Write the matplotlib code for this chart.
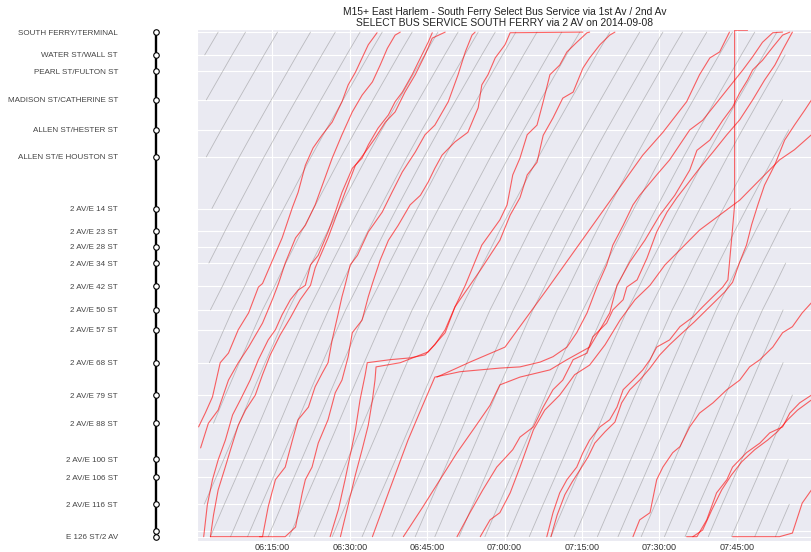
import numpy as np
import matplotlib
matplotlib.use("Agg")
import matplotlib.pyplot as plt
import matplotlib.dates as mdates
import seaborn as sns

sns.set_style("darkgrid")
plt.rcParams["font.family"] = ["Liberation Sans", "DejaVu Sans"]

# stops, bottom (E 126 St) to top (South Ferry), miles along the route
stop_names = ["E 126 ST/2 AV", "", "2 AV/E 116 ST", "2 AV/E 106 ST", "2 AV/E 100 ST",
              "2 AV/E 88 ST", "2 AV/E 79 ST", "2 AV/E 68 ST", "2 AV/E 57 ST",
              "2 AV/E 50 ST", "2 AV/E 42 ST", "2 AV/E 34 ST", "2 AV/E 28 ST",
              "2 AV/E 23 ST", "2 AV/E 14 ST", "ALLEN ST/E HOUSTON ST",
              "ALLEN ST/HESTER ST", "MADISON ST/CATHERINE ST", "PEARL ST/FULTON ST",
              "WATER ST/WALL ST", "SOUTH FERRY/TERMINAL"]
stop_miles = [0.00, 0.10, 0.54, 0.99, 1.29, 1.89, 2.36, 2.90, 3.45, 3.78, 4.17,
              4.56, 4.83, 5.09, 5.47, 6.33, 6.78, 7.28, 7.76, 8.03, 8.41]

# scheduled run time (min from E 126 St) at each stop, and scheduled departures
sched_runtime = [0.0, 0.5, 2.7, 5.0, 6.5, 9.5, 11.8, 14.5, 17.3, 19.0, 21.3, 23.5,
                 25.1, 26.6, 28.9, 34.2, 37.1, 40.4, 43.6, 45.4, 48.0]
sched_departs = [-48.0, -43.5, -38.2, -32.0, -25.6, -20.8, -16.0, -11.7, -5.9, -0.9,
                 3.0, 6.9, 10.2, 14.2, 18.3, 23.1, 26.6, 32.4, 38.2, 42.7, 46.5,
                 51.2, 56.2, 60.5, 64.8, 69.0, 73.5, 78.0, 82.0, 86.5, 91.0, 95.0,
                 99.5, 104.0, 108.5, 112.5]
window = (1.8, 116.0)

# observed buses: minutes after 06:00 and miles from E 126 St
bus_01_min = [0.7, 2.0, 3.4, 4.9, 6.5, 8.4, 10.4, 12.3, 13.1, 15.2, 16.9, 18.9, 20.0, 21.4,
              22.9, 24.7, 26.6, 28.5, 29.7, 31.1, 32.4, 33.6, 35.3]
bus_01_mi = [1.83, 2.06, 2.33, 2.90, 3.06, 3.45, 3.73, 4.16, 4.22, 4.64, 4.98, 5.49, 5.74,
             6.19, 6.48, 6.70, 6.91, 7.25, 7.53, 7.74, 7.98, 8.20, 8.40]
bus_02_min = [1.1, 2.6, 4.5, 6.5, 8.4, 10.4, 13.1, 15.0, 16.2, 17.5, 19.5, 21.4, 23.3, 24.7,
              26.6, 28.5, 30.5, 32.4, 34.4, 35.9, 37.3, 38.8, 39.8]
bus_02_mi = [1.48, 1.89, 2.11, 2.61, 2.90, 3.16, 3.56, 3.95, 4.22, 4.56, 4.98, 5.19, 5.53,
             5.86, 6.31, 6.70, 7.08, 7.36, 7.58, 7.86, 8.14, 8.36, 8.41]
bus_03_min = [1.7, 2.4, 3.4, 4.5, 5.9, 7.3, 8.8, 10.7, 12.3, 14.2, 15.6, 16.9, 18.5, 20.0,
              21.4, 22.4, 23.9, 25.8, 27.2, 28.5, 30.5, 32.4, 33.6, 35.5, 37.5, 38.8, 40.2,
              42.1, 43.3, 45.2, 46.0]
bus_03_mi = [0.0, 0.53, 0.95, 1.28, 1.61, 2.03, 2.28, 2.61, 2.95, 3.28, 3.45, 3.70, 3.95,
             4.11, 4.19, 4.53, 4.69, 5.08, 5.41, 5.74, 6.14, 6.31, 6.53, 6.81, 7.03, 7.25,
             7.41, 7.70, 7.91, 8.24, 8.40]
bus_04_min = [3.0, 3.6, 4.5, 5.7, 6.9, 8.4, 9.8, 11.7, 13.1, 14.6, 16.5, 18.5, 20.4, 22.4,
              23.3, 25.8, 29.1, 31.1, 33.0, 34.9, 36.9, 38.8, 40.7, 42.7, 44.6, 46.0, 48.5]
bus_04_mi = [0.0, 0.36, 0.78, 1.11, 1.45, 1.86, 2.11, 2.36, 2.70, 3.03, 3.36, 3.65, 3.95,
             4.19, 4.48, 4.98, 5.74, 6.19, 6.41, 6.64, 6.91, 7.08, 7.41, 7.70, 8.03, 8.31, 8.41]
bus_05_min = [12.5, 13.1, 14.2, 15.6, 17.5, 18.9, 20.0, 22.0, 23.3, 24.7, 25.8, 26.6, 27.8,
              28.5, 29.1, 30.1, 31.5, 33.6, 36.3, 38.2, 40.2, 42.7, 44.6, 46.5, 49.1, 51.0,
              52.4, 53.7, 54.3]
bus_05_mi = [0.0, 0.0, 0.50, 0.95, 1.16, 1.61, 1.95, 2.16, 2.50, 2.73, 2.90, 3.28, 3.73,
             4.00, 4.19, 4.53, 4.69, 5.08, 5.41, 5.74, 6.08, 6.41, 6.70, 6.86, 7.25, 7.70,
             8.08, 8.36, 8.41]
bus_06_min = [3.0, 17.5, 19.5, 20.8, 21.4, 22.7, 23.9, 25.8, 27.2, 28.5, 29.7, 30.5, 32.4,
              33.6, 34.4, 35.9, 37.5, 39.4, 41.7, 43.7, 45.2, 46.5, 47.9, 50.4, 52.9, 54.9,
              55.6, 56.8, 58.2, 60.1, 61.1, 75.2]
bus_06_mi = [0.0, 0.0, 0.16, 0.73, 0.95, 1.16, 1.56, 1.95, 2.40, 2.61, 3.00, 3.40, 3.61,
             4.00, 4.22, 4.61, 4.94, 5.19, 5.53, 5.69, 5.91, 6.14, 6.36, 6.58, 6.74, 7.15,
             7.53, 7.70, 7.98, 8.20, 8.40, 8.41]
bus_07_min = [26.2, 27.8, 29.1, 30.1, 31.1, 32.0, 33.0, 33.4, 37.8, 41.7, 44.6, 46.5, 48.5,
              50.4, 52.4, 55.6, 59.1, 60.5, 61.6, 63.0, 64.4, 66.3, 67.5, 68.8, 70.7, 72.1,
              74.0, 76.0, 76.5]
bus_07_mi = [0.0, 0.45, 0.95, 1.36, 1.78, 2.28, 2.70, 2.90, 2.95, 2.98, 3.03, 3.20, 3.45,
             3.83, 4.19, 4.86, 5.28, 5.53, 6.03, 6.31, 6.70, 6.86, 7.25, 7.70, 7.86, 8.08,
             8.24, 8.40, 8.41]
bus_08_min = [28.2, 29.7, 31.1, 32.4, 33.6, 34.4, 34.9, 35.1, 39.8, 45.2, 48.5, 50.4, 53.3,
              55.3, 57.2, 59.1, 61.1, 63.0, 64.4, 66.3, 67.5, 69.4, 71.3, 73.3, 75.2, 76.5,
              78.5, 80.4, 81.4]
bus_08_mi = [0.0, 0.53, 1.03, 1.45, 1.86, 2.28, 2.61, 2.83, 2.90, 3.08, 3.40, 3.83, 4.19,
             4.44, 4.69, 4.94, 5.36, 5.65, 6.03, 6.24, 6.69, 6.98, 7.31, 7.41, 7.81, 7.98,
             8.20, 8.36, 8.41]
bus_09_min = [34.4, 37.5, 41.3, 44.0, 46.5, 51.4, 59.1, 63.0, 66.9, 69.4, 72.1, 74.0, 76.0,
              77.9, 79.8, 81.0, 83.0, 84.9, 86.2, 89.5, 92.0, 95.9, 98.4, 101.1, 103.6,
              106.2, 108.1, 110.0, 112.0, 113.9]
bus_09_mi = [0.0, 0.73, 1.61, 2.16, 2.66, 2.75, 2.81, 2.83, 2.91, 3.00, 3.16, 3.40, 3.73,
             4.16, 4.53, 4.86, 5.19, 5.53, 5.69, 6.03, 6.28, 6.78, 6.94, 7.23, 7.50, 7.78,
             8.00, 8.24, 8.40, 8.41]
bus_10_min = [46.9, 53.3, 60.1, 68.8, 78.5, 86.8, 90.7, 95.3, 97.8, 99.8, 101.7, 103.6]
bus_10_mi = [2.66, 2.91, 3.16, 4.19, 5.36, 6.36, 6.74, 7.25, 7.70, 7.98, 8.08, 8.41]
bus_11_min = [40.4, 44.2, 47.5, 50.8, 53.9, 57.2, 59.1, 63.0, 68.8, 72.1, 76.5, 78.5, 80.4,
              81.8, 84.3, 87.2, 90.1, 93.0, 95.9, 97.3, 99.8, 102.3, 104.2, 105.6, 107.1,
              108.1, 110.0, 112.0, 113.9, 115.3]
bus_11_mi = [0.0, 0.50, 0.95, 1.40, 1.78, 2.19, 2.53, 2.66, 2.78, 2.95, 3.16, 3.45, 3.73,
             4.19, 4.58, 4.94, 5.36, 5.69, 6.11, 6.44, 6.61, 6.94, 7.16, 7.40, 7.61, 7.78,
             7.94, 8.16, 8.36, 8.41]
bus_12_min = [50.8, 53.3, 55.8, 58.5, 61.6, 63.0, 65.6, 67.5, 69.4, 71.3, 73.3, 76.0, 77.1,
              79.8, 81.0, 83.0, 83.7, 85.7, 87.6, 89.5, 91.5, 93.4, 95.3, 97.8, 100.4, 103.1,
              105.6, 108.1, 110.4, 112.4, 113.9, 115.8]
bus_12_mi = [0.0, 0.40, 0.78, 1.16, 1.45, 1.66, 1.83, 2.16, 2.45, 2.61, 2.95, 3.06, 3.33,
             3.56, 3.78, 3.95, 4.16, 4.28, 4.64, 5.08, 5.41, 5.65, 5.86, 6.14, 6.41, 6.70,
             6.95, 7.28, 7.61, 7.86, 8.11, 8.41]
bus_13_min = [55.3, 57.2, 59.1, 61.1, 63.0, 65.6, 67.8, 70.7, 73.6, 76.5, 79.5, 82.4, 85.3,
              88.2, 91.1, 94.0, 97.8, 101.7, 105.6, 109.5, 113.3, 116.2, 119.5]
bus_13_mi = [0.0, 0.28, 0.40, 0.73, 1.16, 1.78, 2.11, 2.36, 2.70, 2.86, 3.20, 3.61, 3.95,
             4.19, 4.53, 4.78, 5.11, 5.36, 5.61, 5.95, 6.28, 6.45, 6.70]
bus_14_min = [68.2, 69.4, 70.7, 72.1, 74.0, 75.2, 76.5, 78.5, 80.4, 81.8, 83.0, 84.9, 86.8,
              88.2, 89.5, 92.0, 94.0, 96.5, 98.4, 100.4, 102.3, 103.3, 104.0, 104.6, 104.6,
              107.1]
bus_14_mi = [0.0, 0.40, 0.73, 0.95, 1.16, 1.40, 1.61, 1.83, 1.95, 2.16, 2.45, 2.61, 2.78,
             2.95, 3.16, 3.28, 3.50, 3.66, 3.83, 4.00, 4.16, 4.28, 4.94, 5.53, 8.44, 8.44]
bus_15_min = [69.0, 70.2, 71.7, 73.1, 74.6, 76.2, 77.5, 79.5, 81.4, 82.7, 84.3, 86.2, 88.2,
              90.1, 92.0, 94.5, 96.8, 98.8, 100.7, 102.7, 104.2, 105.6, 106.9, 107.9, 109.1,
              110.4, 112.4, 114.3, 116.2, 118.2, 119.5]
bus_15_mi = [0.0, 0.36, 0.70, 0.91, 1.11, 1.33, 1.56, 1.75, 1.91, 2.23, 2.45, 2.61, 2.81,
             3.03, 3.20, 3.40, 3.58, 3.75, 3.91, 4.08, 4.24, 4.58, 4.86, 5.20, 5.53, 5.86,
             6.20, 6.61, 6.86, 7.11, 7.28]
bus_16_min = [84.9, 86.2, 88.2, 89.5, 90.7, 92.6, 94.0, 95.9, 97.8, 100.4, 103.1, 105.6,
              107.5, 109.5, 112.0, 113.9, 115.8, 117.7, 119.5]
bus_16_mi = [0.0, 0.28, 0.40, 0.95, 1.16, 1.40, 1.50, 1.83, 2.06, 2.23, 2.45, 2.61, 2.83,
             2.95, 3.16, 3.40, 3.50, 3.73, 3.90]
bus_17_min = [95.3, 97.3, 99.2, 101.1, 103.1, 104.2, 106.9, 109.5, 111.4, 113.9, 115.3,
              117.2, 119.5]
bus_17_mi = [0.0, 0.0, 0.28, 0.73, 0.95, 1.16, 1.40, 1.56, 1.73, 1.83, 2.06, 2.23, 2.36]
bus_18_min = [96.5, 98.4, 100.2, 102.1, 104.0, 106.0, 108.5, 111.0, 112.9, 114.9, 116.8, 119.5]
bus_18_mi = [0.0, 0.11, 0.45, 0.78, 1.03, 1.25, 1.45, 1.61, 1.75, 1.95, 2.11, 2.28]
bus_19_min = [104.2, 113.3, 115.8, 117.7, 119.5]
bus_19_mi = [0.0, 0.0, 0.06, 0.56, 0.78]

buses = [(bus_01_min, bus_01_mi), (bus_02_min, bus_02_mi), (bus_03_min, bus_03_mi),
         (bus_04_min, bus_04_mi), (bus_05_min, bus_05_mi), (bus_06_min, bus_06_mi),
         (bus_07_min, bus_07_mi), (bus_08_min, bus_08_mi), (bus_09_min, bus_09_mi),
         (bus_10_min, bus_10_mi), (bus_11_min, bus_11_mi), (bus_12_min, bus_12_mi),
         (bus_13_min, bus_13_mi), (bus_14_min, bus_14_mi), (bus_15_min, bus_15_mi),
         (bus_16_min, bus_16_mi), (bus_17_min, bus_17_mi), (bus_18_min, bus_18_mi),
         (bus_19_min, bus_19_mi)]

tick_minutes = [15, 30, 45, 60, 75, 90, 105]

base = np.datetime64("2014-09-08T06:00:00")


def clock(minutes):
    ms = np.round(np.asarray(minutes, dtype=float) * 60000).astype("timedelta64[ms]")
    return base + ms


fig = plt.figure(figsize=(8.12, 5.52), dpi=100)
ax = fig.add_axes([197 / 812, 11 / 552, 615 / 812, 512 / 552])
stop_ax = fig.add_axes([150 / 812, 11 / 552, 12 / 812, 512 / 552])

ylim = (-0.072, 8.462)

# schedule
runtime = np.array(sched_runtime)
miles = np.array(stop_miles)
for dep in sched_departs:
    t = dep + runtime
    keep = (t >= window[0]) & (t <= window[1])
    if keep.sum() < 2:
        continue
    ax.plot(clock(t[keep]), miles[keep], color="gray", alpha=0.45, lw=0.6)

# actual buses
for t, d in buses:
    ax.plot(clock(t), d, color="red", alpha=0.6, lw=0.8)

ax.set_xlim(clock(0.4), clock(119.6))
ax.set_ylim(*ylim)
ax.set_yticks(stop_miles)
ax.tick_params(axis="y", labelleft=False, length=0)
ax.set_xticks(clock(tick_minutes))
ax.xaxis.set_major_formatter(mdates.DateFormatter("%H:%M:%S"))
ax.tick_params(axis="x", labelsize=6.5, pad=1.5, colors="#333333", length=0)
ax.set_title("M15+ East Harlem - South Ferry Select Bus Service via 1st Av / 2nd Av\n"
             "SELECT BUS SERVICE SOUTH FERRY via 2 AV on 2014-09-08",
             fontsize=7.4, pad=2, linespacing=1.1, color="#222222")

# stop strip
stop_ax.set_facecolor("white")
stop_ax.grid(False)
for s in stop_ax.spines.values():
    s.set_visible(False)
stop_ax.plot([0, 0], [stop_miles[0], stop_miles[-1]], color="black", lw=1.7, zorder=1)
stop_ax.plot([0] * len(stop_miles), stop_miles, "o", ms=4.0, mfc="white", mec="black",
             mew=0.8, zorder=2)
stop_ax.set_xlim(-1, 1)
stop_ax.set_ylim(*ylim)
stop_ax.set_xticks([])
stop_ax.set_yticks(stop_miles)
stop_ax.set_yticklabels(stop_names)
stop_ax.tick_params(axis="y", length=0, pad=23, labelsize=5.8, colors="#444444")

fig.savefig("out.png", dpi=100)
